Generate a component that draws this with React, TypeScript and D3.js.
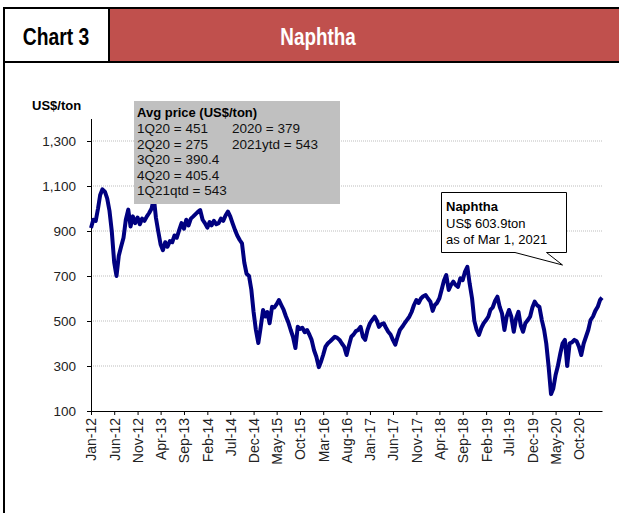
import React, { useEffect, useRef } from 'react';
import * as d3 from 'd3';

// semi-monthly readings (1st and 16th of each month), US$/ton
const naphtha2012 = [913, 950, 945, 1000, 1060, 1085, 1075, 1045, 990, 900, 760, 700, 790, 830, 870, 950, 995, 920, 965, 935, 960, 930, 955, 945];
const naphtha2013 = [965, 980, 1000, 1045, 960, 900, 840, 815, 850, 830, 855, 850, 880, 870, 905, 935, 910, 950, 925, 955, 965, 975, 985, 993];
const naphtha2014 = [950, 935, 915, 940, 925, 945, 930, 935, 955, 945, 970, 986, 965, 935, 905, 880, 860, 845, 760, 710, 700, 640, 540, 460];
const naphtha2015 = [402, 470, 549, 520, 540, 490, 563, 560, 575, 593, 570, 549, 520, 495, 460, 430, 380, 474, 465, 470, 450, 460, 440, 416];
const naphtha2016 = [370, 341, 295, 320, 350, 386, 401, 410, 420, 430, 425, 416, 400, 386, 349, 390, 430, 440, 455, 460, 474, 430, 416, 460];
const naphtha2017 = [490, 505, 519, 500, 474, 485, 490, 470, 452, 440, 415, 395, 430, 460, 474, 490, 505, 519, 540, 570, 593, 580, 600, 610];
const naphtha2018 = [615, 600, 586, 545, 570, 580, 601, 640, 680, 704, 638, 660, 675, 660, 652, 690, 682, 720, 741, 667, 600, 500, 460, 438];
const naphtha2019 = [470, 490, 504, 520, 549, 560, 590, 608, 563, 534, 460, 520, 549, 519, 452, 510, 541, 480, 452, 490, 504, 519, 560, 586];
const naphtha2020 = [570, 563, 504, 460, 400, 300, 175, 200, 260, 300, 356, 401, 416, 300, 401, 405, 416, 410, 386, 349, 400, 430, 460, 504];
const naphtha2021 = [520, 545, 563, 593, 603.9];

const yTicks = [100, 300, 500, 700, 900, 1100, 1300];
const xTickLabels = ['Jan-12', 'Jun-12', 'Nov-12', 'Apr-13', 'Sep-13', 'Feb-14', 'Jul-14', 'Dec-14', 'May-15', 'Oct-15', 'Mar-16', 'Aug-16', 'Jan-17', 'Jun-17', 'Nov-17', 'Apr-18', 'Sep-18', 'Feb-19', 'Jul-19', 'Dec-19', 'May-20', 'Oct-20'];

const avgTitle = 'Avg price (US$/ton)';
const avgQuarterly = ['1Q20 = 451', '2Q20 = 275', '3Q20 = 390.4', '4Q20 = 405.4', '1Q21qtd = 543'];
const avgYearly = ['2020 = 379', '2021ytd = 543'];
const calloutLines = ['Naphtha', 'US$ 603.9ton', 'as of Mar 1, 2021'];

const FONT = '"Liberation Sans", Arial, Helvetica, sans-serif';

const App: React.FC = () => {
  const svgRef = useRef<SVGSVGElement>(null);

  useEffect(() => {
    if (!svgRef.current) return;
    const svg = d3.select(svgRef.current);
    svg.selectAll('*').remove();

    const years = [naphtha2012, naphtha2013, naphtha2014, naphtha2015, naphtha2016, naphtha2017, naphtha2018, naphtha2019, naphtha2020, naphtha2021];
    const data: { date: Date; value: number }[] = [];
    years.forEach((vals, yi) => {
      vals.forEach((v, i) => {
        data.push({ date: new Date(2012 + yi, Math.floor(i / 2), i % 2 ? 16 : 1), value: v });
      });
    });

    const left = 91, right = 602, top = 118.5, bottom = 411;

    const x = d3.scaleTime()
      .domain([new Date(2012, 0, 1), new Date(2021, 2, 1)])
      .range([left, right]);
    const y = d3.scaleLinear().domain([100, 1400]).range([bottom, top]);

    // header
    svg.append('rect').attr('x', 109).attr('y', 8).attr('width', 520).attr('height', 54).attr('fill', '#c0504d');
    svg.append('line').attr('x1', 4).attr('x2', 619).attr('y1', 8).attr('y2', 8).attr('stroke', '#000').attr('stroke-width', 2);
    svg.append('line').attr('x1', 4).attr('x2', 619).attr('y1', 62).attr('y2', 62).attr('stroke', '#000').attr('stroke-width', 2);
    svg.append('line').attr('x1', 4).attr('x2', 4).attr('y1', 7).attr('y2', 513).attr('stroke', '#000').attr('stroke-width', 2);
    svg.append('line').attr('x1', 109).attr('x2', 109).attr('y1', 8).attr('y2', 62).attr('stroke', '#000').attr('stroke-width', 2);
    svg.append('text').attr('transform', 'translate(56,45) scale(0.84,1)')
      .attr('text-anchor', 'middle').attr('font-size', 23).attr('font-weight', 'bold').attr('fill', '#000')
      .text('Chart 3');
    svg.append('text').attr('transform', 'translate(318,45) scale(0.82,1)')
      .attr('text-anchor', 'middle').attr('font-size', 23).attr('font-weight', 'bold').attr('fill', '#fff')
      .text('Naphtha');

    // gridlines
    svg.append('g').selectAll('line').data(yTicks.slice(1)).join('line')
      .attr('x1', left).attr('x2', right)
      .attr('y1', d => y(d)).attr('y2', d => y(d))
      .attr('stroke', '#bdbdbd').attr('stroke-width', 1).attr('stroke-dasharray', '1,1');

    // y axis
    const yAxis = svg.append('g')
      .attr('transform', `translate(${left},0)`)
      .call(d3.axisLeft(y).tickValues(yTicks).tickSize(4).tickSizeOuter(0).tickPadding(11).tickFormat(d3.format(',')));
    yAxis.select('.domain').attr('stroke', '#000');
    yAxis.selectAll('line').attr('stroke', '#000');
    yAxis.selectAll('text').attr('font-size', 13.5).attr('font-family', FONT).attr('fill', '#222');

    svg.append('text').attr('x', 32).attr('y', 110)
      .attr('font-size', 13).attr('font-weight', 'bold').attr('fill', '#000')
      .text('US$/ton');

    // x axis
    const tickDates = xTickLabels.map(s => d3.timeParse('%b-%y')(s) as Date);
    const xAxis = svg.append('g')
      .attr('transform', `translate(0,${bottom})`)
      .call(d3.axisBottom(x).tickValues(tickDates).tickSize(4).tickSizeOuter(0).tickFormat(d3.timeFormat('%b-%y') as any));
    xAxis.select('.domain').attr('stroke', '#000');
    xAxis.selectAll('line').attr('stroke', '#000');
    xAxis.selectAll('text')
      .attr('font-size', 14).attr('font-family', FONT).attr('fill', '#222')
      .attr('text-anchor', 'end')
      .attr('transform', 'rotate(-90)')
      .attr('x', -7).attr('y', 0).attr('dy', '0.35em');

    // series
    const line = d3.line<{ date: Date; value: number }>()
      .x(d => x(d.date))
      .y(d => y(d.value))
      .curve(d3.curveLinear);
    svg.append('path').datum(data)
      .attr('fill', 'none').attr('stroke', '#000080').attr('stroke-width', 4)
      .attr('stroke-linejoin', 'round')
      .attr('d', line);

    // avg price box
    svg.append('rect').attr('x', 134).attr('y', 101).attr('width', 206).attr('height', 103).attr('fill', '#c0c0c0');
    svg.append('text').attr('x', 137).attr('y', 117).attr('font-size', 13).attr('font-weight', 'bold').attr('fill', '#000').text(avgTitle);
    avgQuarterly.forEach((t, i) => {
      svg.append('text').attr('x', 137).attr('y', 133 + i * 15.5).attr('font-size', 13.5).attr('fill', '#111').text(t);
    });
    avgYearly.forEach((t, i) => {
      svg.append('text').attr('x', 232).attr('y', 133 + i * 15.5).attr('font-size', 13.5).attr('fill', '#111').text(t);
    });

    // callout
    svg.append('path')
      .attr('d', 'M441.5,192.5 H566.5 V252.5 H546.5 L562.5,265 L515,252.5 H441.5 Z')
      .attr('fill', '#fff').attr('stroke', '#000').attr('stroke-width', 1);
    calloutLines.forEach((t, i) => {
      svg.append('text').attr('x', 446).attr('y', 211 + i * 16.5)
        .attr('font-size', 13).attr('font-weight', i === 0 ? 'bold' : 'normal').attr('fill', '#000').text(t);
    });
  }, []);

  return (
    <svg
      ref={svgRef}
      width={619}
      height={513}
      style={{ position: 'absolute', left: 0, top: 0, background: '#fff', fontFamily: FONT }}
    />
  );
};

export default App;
